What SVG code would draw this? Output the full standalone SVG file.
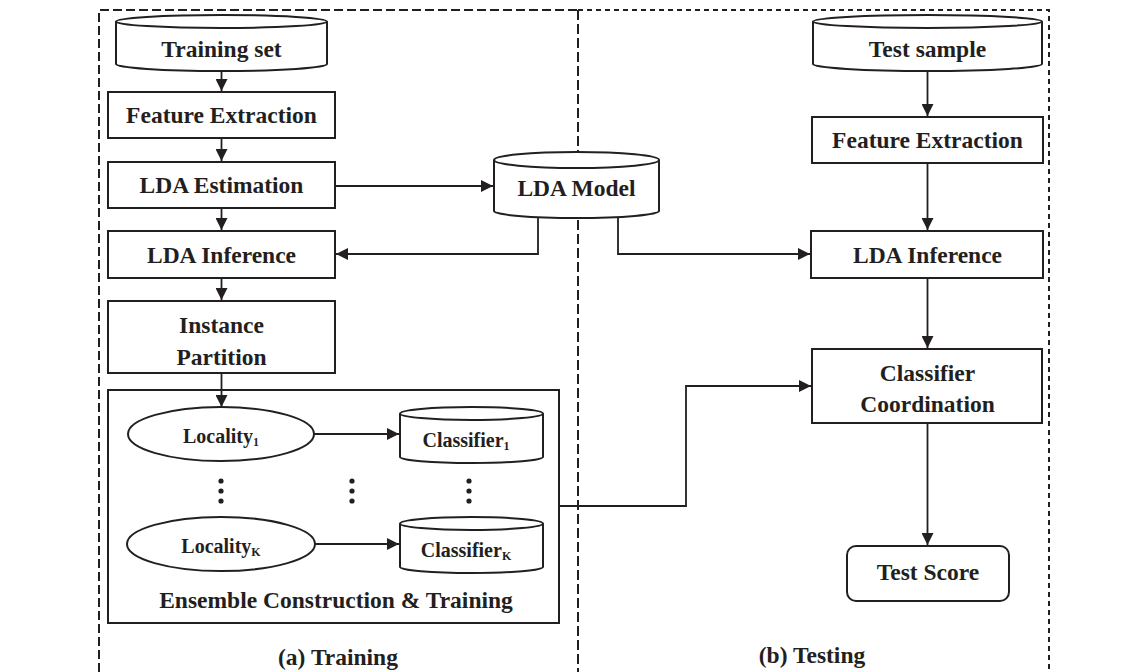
<svg xmlns="http://www.w3.org/2000/svg" width="1140" height="672" viewBox="0 0 1140 672">
<style>
.box{fill:#fff;stroke:#231f20;stroke-width:2}
.t{font-family:"Liberation Serif","Times New Roman",serif;font-weight:bold;font-size:23.5px;fill:#231f20;text-anchor:middle}
.s{font-family:"Liberation Serif","Times New Roman",serif;font-weight:bold;font-size:20px;fill:#231f20;text-anchor:middle}
.sub{font-size:12px}
.c{fill:none;stroke:#231f20;stroke-width:1.8}
.fl{fill:none;stroke:#231f20;stroke-width:2}
.dot{fill:#231f20}
</style>
<defs>
<marker id="ah" viewBox="0 0 12 12" refX="12" refY="6" markerWidth="12" markerHeight="12" markerUnits="userSpaceOnUse" orient="auto">
<path d="M0,0 L12,6 L0,12 Z" fill="#231f20"/>
</marker>
</defs>
<rect width="1140" height="672" fill="#fff"/>
<g id="frames">
<path class="fl" d="M99,672 L99,10 L578,10" stroke-dasharray="9,4"/>
<path class="fl" d="M578,10 L578,672" stroke-dasharray="10,4"/>
<path class="fl" d="M578,10 L1049,10 L1049,672" stroke-dasharray="5,4"/>
</g>
<g id="training-set">
<path class="box" d="M116,21.5 L116,64 A105.5,7 0 0 0 327,64 L327,21.5"/>
<ellipse class="box" cx="221.5" cy="21.5" rx="105.5" ry="6.5"/>
<text class="t" x="221.5" y="57">Training set</text>
</g>
<g id="feature-extraction-a">
<rect class="box" x="108" y="92" width="227" height="46"/>
<text class="t" x="221.5" y="123">Feature Extraction</text>
</g>
<g id="lda-estimation">
<rect class="box" x="108" y="162" width="227" height="46"/>
<text class="t" x="221.5" y="193">LDA Estimation</text>
</g>
<g id="lda-inference-a">
<rect class="box" x="108" y="231" width="227" height="47"/>
<text class="t" x="221.5" y="263">LDA Inference</text>
</g>
<g id="instance-partition">
<rect class="box" x="108" y="301" width="227" height="72"/>
<text class="t" x="221.5" y="333">Instance</text>
<text class="t" x="221.5" y="365">Partition</text>
</g>
<g id="ensemble">
<rect class="box" x="108" y="390" width="451" height="233"/>
<text class="t" x="336" y="608">Ensemble Construction &amp; Training</text>
</g>
<g id="locality-1">
<ellipse class="box" cx="221" cy="434" rx="93" ry="27"/>
<text class="s" x="221" y="443">Locality<tspan class="sub" dy="3">1</tspan></text>
</g>
<g id="locality-k">
<ellipse class="box" cx="221" cy="544" rx="94" ry="27"/>
<text class="s" x="221" y="553">Locality<tspan class="sub" dy="3">K</tspan></text>
</g>
<g id="classifier-1">
<path class="box" d="M400,413.5 L400,457 A71.5,6 0 0 0 543,457 L543,413.5"/>
<ellipse class="box" cx="471.5" cy="413.5" rx="71.5" ry="6.5"/>
<text class="s" x="466" y="447">Classifier<tspan class="sub" dy="3">1</tspan></text>
</g>
<g id="classifier-k">
<path class="box" d="M400,523.5 L400,567 A71.5,6 0 0 0 543,567 L543,523.5"/>
<ellipse class="box" cx="471.5" cy="523.5" rx="71.5" ry="6.5"/>
<text class="s" x="466" y="557">Classifier<tspan class="sub" dy="3">K</tspan></text>
</g>
<g id="dots">
<circle class="dot" cx="221" cy="481" r="2.6"/><circle class="dot" cx="221" cy="491" r="2.6"/><circle class="dot" cx="221" cy="501" r="2.6"/>
<circle class="dot" cx="352" cy="481" r="2.6"/><circle class="dot" cx="352" cy="491" r="2.6"/><circle class="dot" cx="352" cy="501" r="2.6"/>
<circle class="dot" cx="469" cy="481" r="2.6"/><circle class="dot" cx="469" cy="491" r="2.6"/><circle class="dot" cx="469" cy="501" r="2.6"/>
</g>
<g id="lda-model">
<path class="box" d="M494,160 L494,211 A82.5,7 0 0 0 659,211 L659,160"/>
<ellipse class="box" cx="576.5" cy="160" rx="82.5" ry="8"/>
<text class="t" x="576.5" y="196">LDA Model</text>
</g>
<g id="test-sample">
<path class="box" d="M813,21.5 L813,64 A114.5,7 0 0 0 1042,64 L1042,21.5"/>
<ellipse class="box" cx="927.5" cy="21.5" rx="114.5" ry="6.5"/>
<text class="t" x="927.5" y="57">Test sample</text>
</g>
<g id="feature-extraction-b">
<rect class="box" x="812" y="117" width="231" height="46"/>
<text class="t" x="927.5" y="148">Feature Extraction</text>
</g>
<g id="lda-inference-b">
<rect class="box" x="811" y="231" width="232" height="47"/>
<text class="t" x="927.5" y="263">LDA Inference</text>
</g>
<g id="classifier-coordination">
<rect class="box" x="812" y="349" width="230" height="74"/>
<text class="t" x="927.5" y="381">Classifier</text>
<text class="t" x="927.5" y="412">Coordination</text>
</g>
<g id="test-score">
<rect class="box" x="847" y="546" width="162" height="55" rx="9"/>
<text class="t" x="928" y="580">Test Score</text>
</g>
<g id="captions">
<text class="t" x="338" y="665">(a) Training</text>
<text class="t" x="812" y="663">(b) Testing</text>
</g>
<g id="connectors">
<line class="c" x1="221.5" y1="71" x2="221.5" y2="91" marker-end="url(#ah)"/>
<line class="c" x1="221.5" y1="139" x2="221.5" y2="161" marker-end="url(#ah)"/>
<line class="c" x1="221.5" y1="209" x2="221.5" y2="230" marker-end="url(#ah)"/>
<line class="c" x1="221.5" y1="279" x2="221.5" y2="300" marker-end="url(#ah)"/>
<line class="c" x1="221.5" y1="374" x2="221.5" y2="407" marker-end="url(#ah)"/>
<line class="c" x1="336" y1="186" x2="493" y2="186" marker-end="url(#ah)"/>
<polyline class="c" points="538,218 538,254 336,254" marker-end="url(#ah)"/>
<polyline class="c" points="618,218 618,254 810,254" marker-end="url(#ah)"/>
<line class="c" x1="314" y1="434" x2="399" y2="434" marker-end="url(#ah)"/>
<line class="c" x1="315" y1="544" x2="399" y2="544" marker-end="url(#ah)"/>
<line class="c" x1="927.5" y1="71" x2="927.5" y2="116" marker-end="url(#ah)"/>
<line class="c" x1="927.5" y1="164" x2="927.5" y2="230" marker-end="url(#ah)"/>
<line class="c" x1="927.5" y1="279" x2="927.5" y2="348" marker-end="url(#ah)"/>
<line class="c" x1="927.5" y1="424" x2="927.5" y2="545" marker-end="url(#ah)"/>
<polyline class="c" points="560,506 686,506 686,386 811,386" marker-end="url(#ah)"/>
</g>
</svg>
